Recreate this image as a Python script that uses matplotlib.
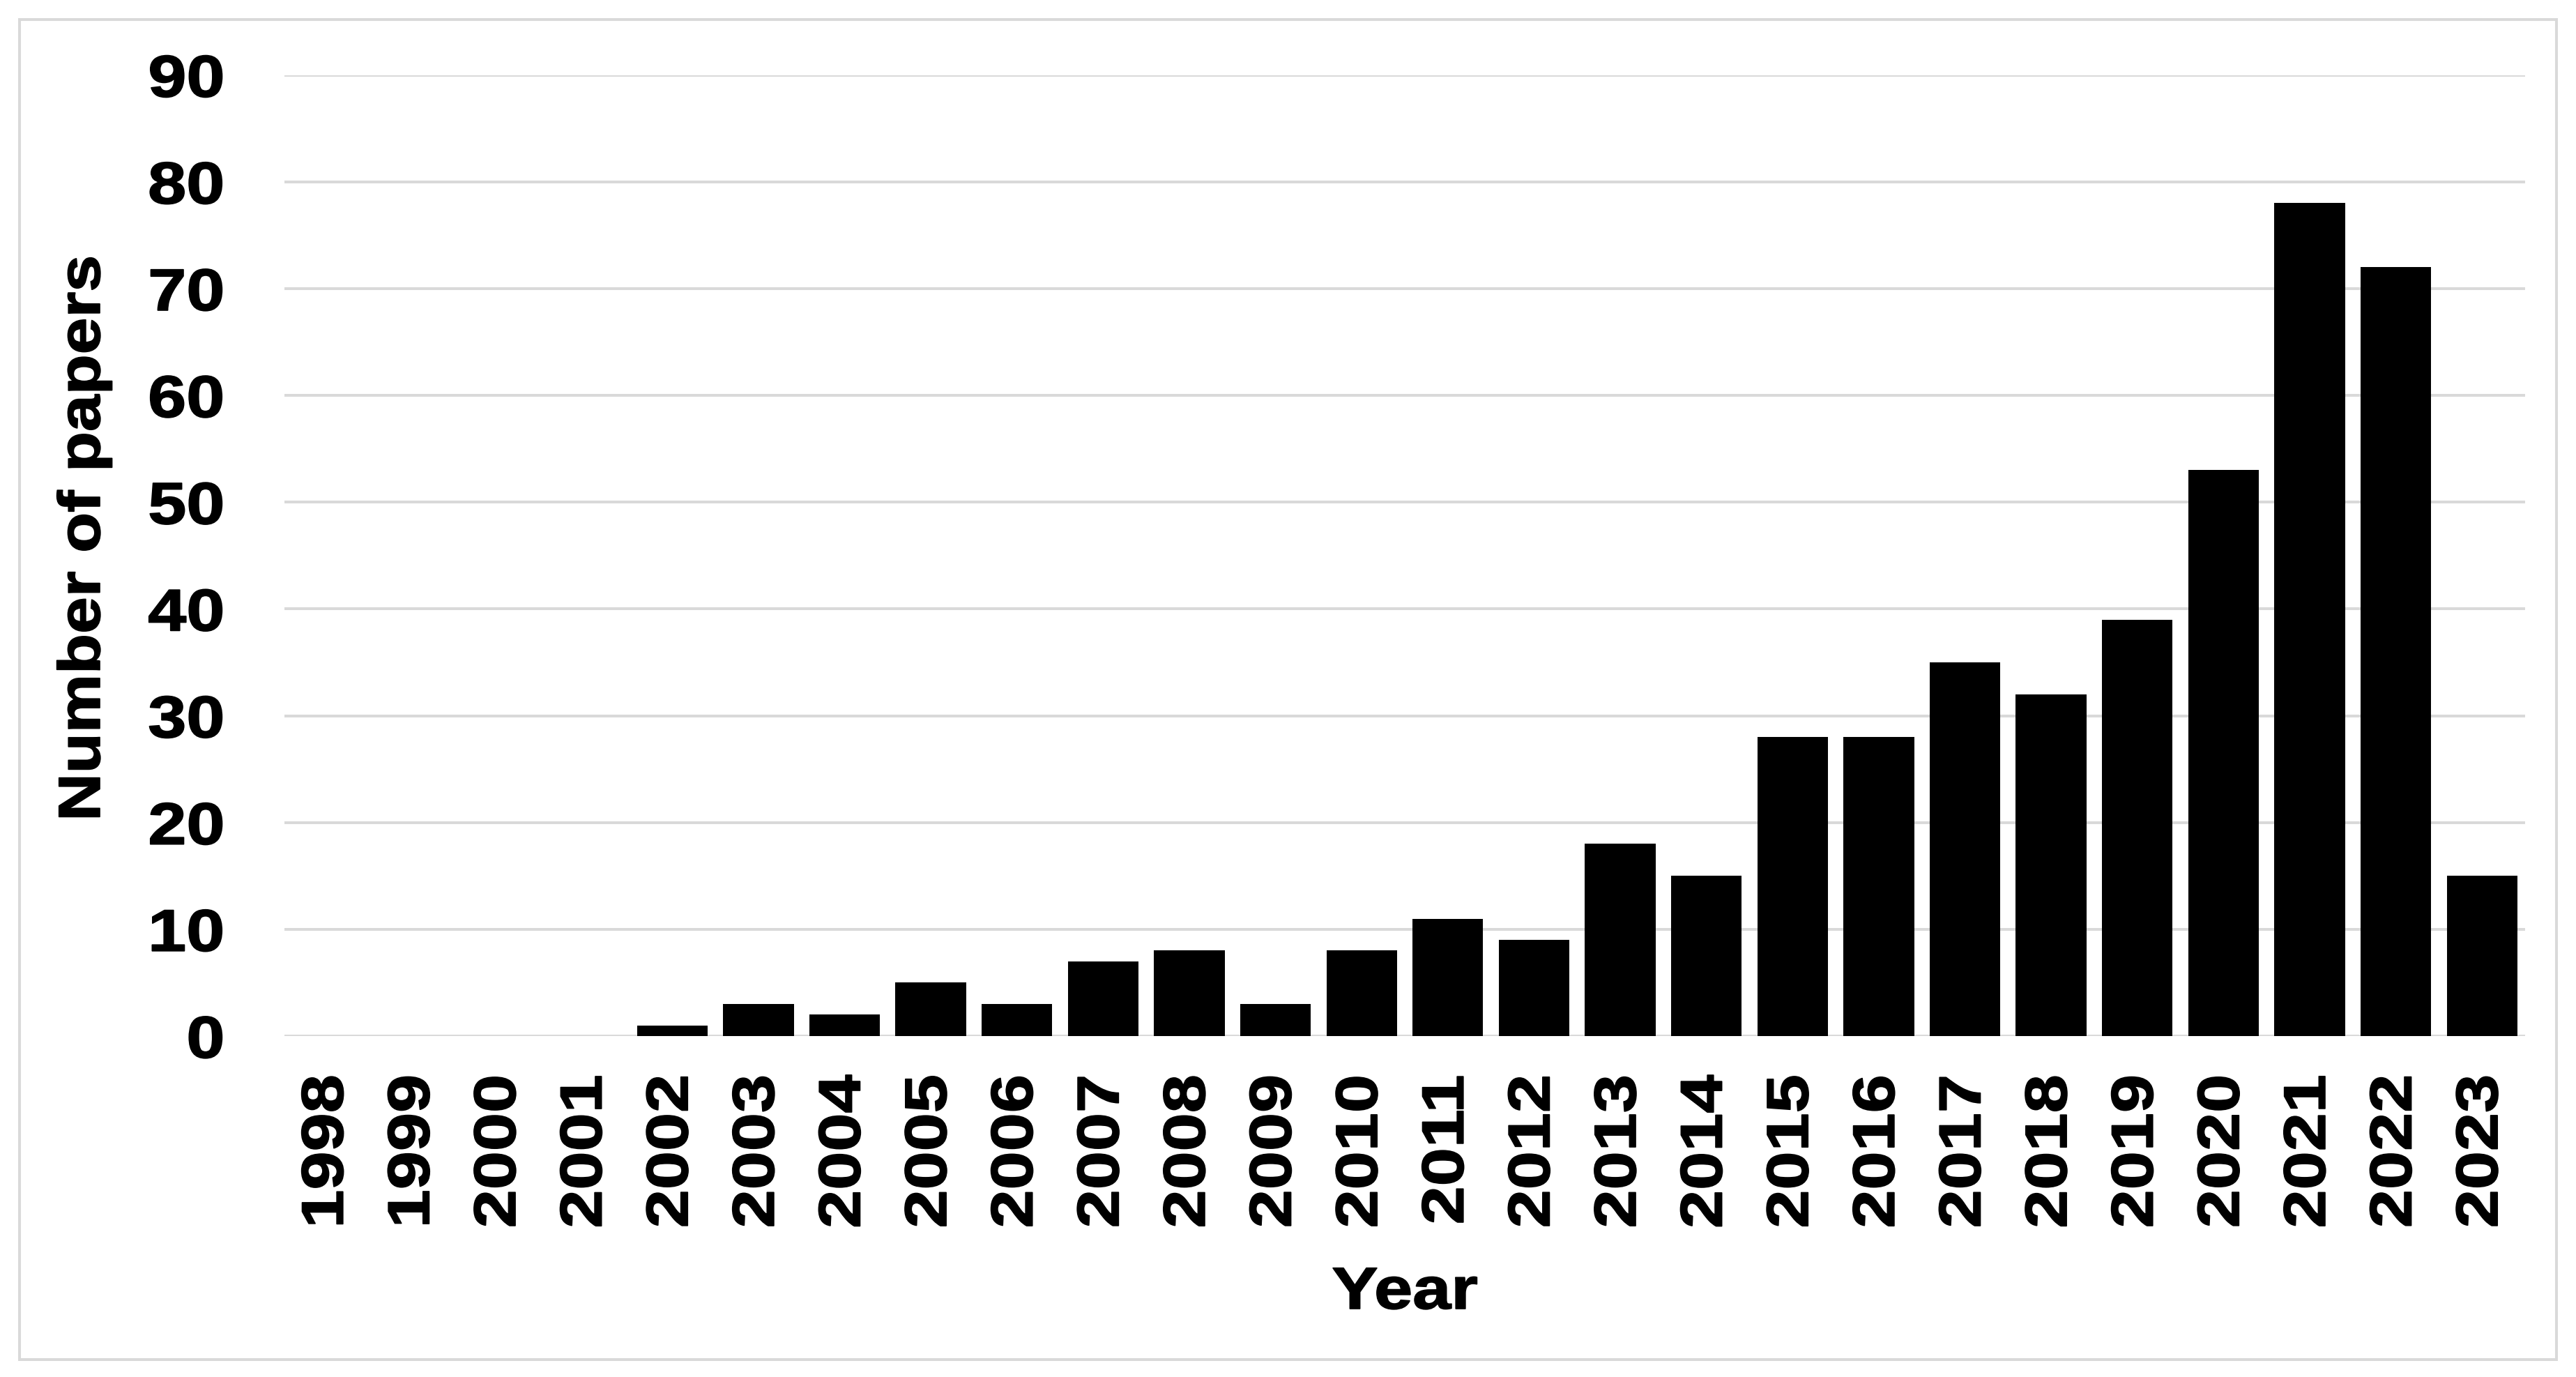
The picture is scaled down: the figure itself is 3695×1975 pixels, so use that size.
import matplotlib.pyplot as plt
from matplotlib.patches import Rectangle
from matplotlib.patheffects import AbstractPathEffect
from matplotlib.transforms import Affine2D

# papers per year
years = [str(y) for y in range(1998, 2024)]
papers = [0, 0, 0, 0, 1, 3, 2, 5, 3, 7, 8, 3, 8, 11, 9, 18, 15,
          28, 28, 35, 32, 39, 53, 78, 72, 15]
yticks = [0, 10, 20, 30, 40, 50, 60, 70, 80, 90]

W, H = 3695, 1975
dpi = 100
plt.rcParams['font.family'] = ['Liberation Sans', 'DejaVu Sans']
fs = 61


# the original font is a bit wider than Arial, so stretch glyphs along
# the text direction, keeping the aligned edge (frac of the width) fixed
class Stretch(AbstractPathEffect):
    def __init__(self, sx, frac, lw=0.0):
        super().__init__()
        self.sx, self.frac, self.lw = sx, frac, lw

    def draw_path(self, renderer, gc, tpath, affine, rgbFace=None):
        v = tpath.vertices
        w = v[:, 0].max() if len(v) else 0
        a = Affine2D().translate(-self.frac * w, 0).scale(self.sx, 1).translate(self.frac * w, 0) + affine
        gc0 = renderer.new_gc()
        gc0.copy_properties(gc)
        if self.lw:
            gc0.set_linewidth(self.lw)
            gc0.set_foreground(rgbFace)
        renderer.draw_path(gc0, tpath, a, rgbFace)
        gc0.restore()


fig = plt.figure(figsize=(W / dpi, H / dpi), dpi=dpi)
fig.patch.set_facecolor('white')

# light grey frame round the whole chart
fig.patches.append(Rectangle((28 / W, 1 - 1950 / H), (3667 - 28) / W, (1950 - 28) / H,
                             transform=fig.transFigure, fill=False,
                             edgecolor='#d9d9d9', linewidth=2.9))

left, right = 408 / W, 3622 / W
bottom, top = 1 - 1486 / H, 1 - 107.7 / H
ax = fig.add_axes([left, bottom, right - left, top - bottom])

x = range(len(years))
ax.bar(x, papers, width=0.82, color='black', zorder=3)

ax.set_xlim(-0.5, len(years) - 0.5)
ax.set_ylim(0, 90)
ax.set_yticks(yticks)
ax.set_xticks(list(x))
ax.set_xticklabels(years, rotation=90, fontsize=fs, fontweight='bold')
ax.set_yticklabels([str(t) for t in yticks], fontsize=fs, fontweight='bold')
ax.tick_params(axis='y', length=0, pad=62)
ax.tick_params(axis='x', length=0, pad=40)

sx = 1.17
for t in ax.get_xticklabels() + ax.get_yticklabels():
    t.set_path_effects([Stretch(sx, 1.0, 1.2)])

ax.grid(axis='y', color='#d9d9d9', linewidth=2.9, zorder=0)
ax.set_axisbelow(True)
for s in ax.spines.values():
    s.set_visible(False)

ax.set_xlabel('Year', fontsize=fs, fontweight='bold', va='baseline',
              path_effects=[Stretch(sx, 0.5, 1.2)])
ax.xaxis.set_label_coords(0.5, -(1877 - 1486) / 1378.3)
ax.set_ylabel('Number of papers', fontsize=fs, fontweight='bold', va='center', ha='center',
              path_effects=[Stretch(1.12, 0.5, 1.2)])
ax.yaxis.set_label_coords((121 - 408) / 3214, (1486 - 772) / 1378.3)

plt.savefig('out.png', dpi=dpi, facecolor='white')
